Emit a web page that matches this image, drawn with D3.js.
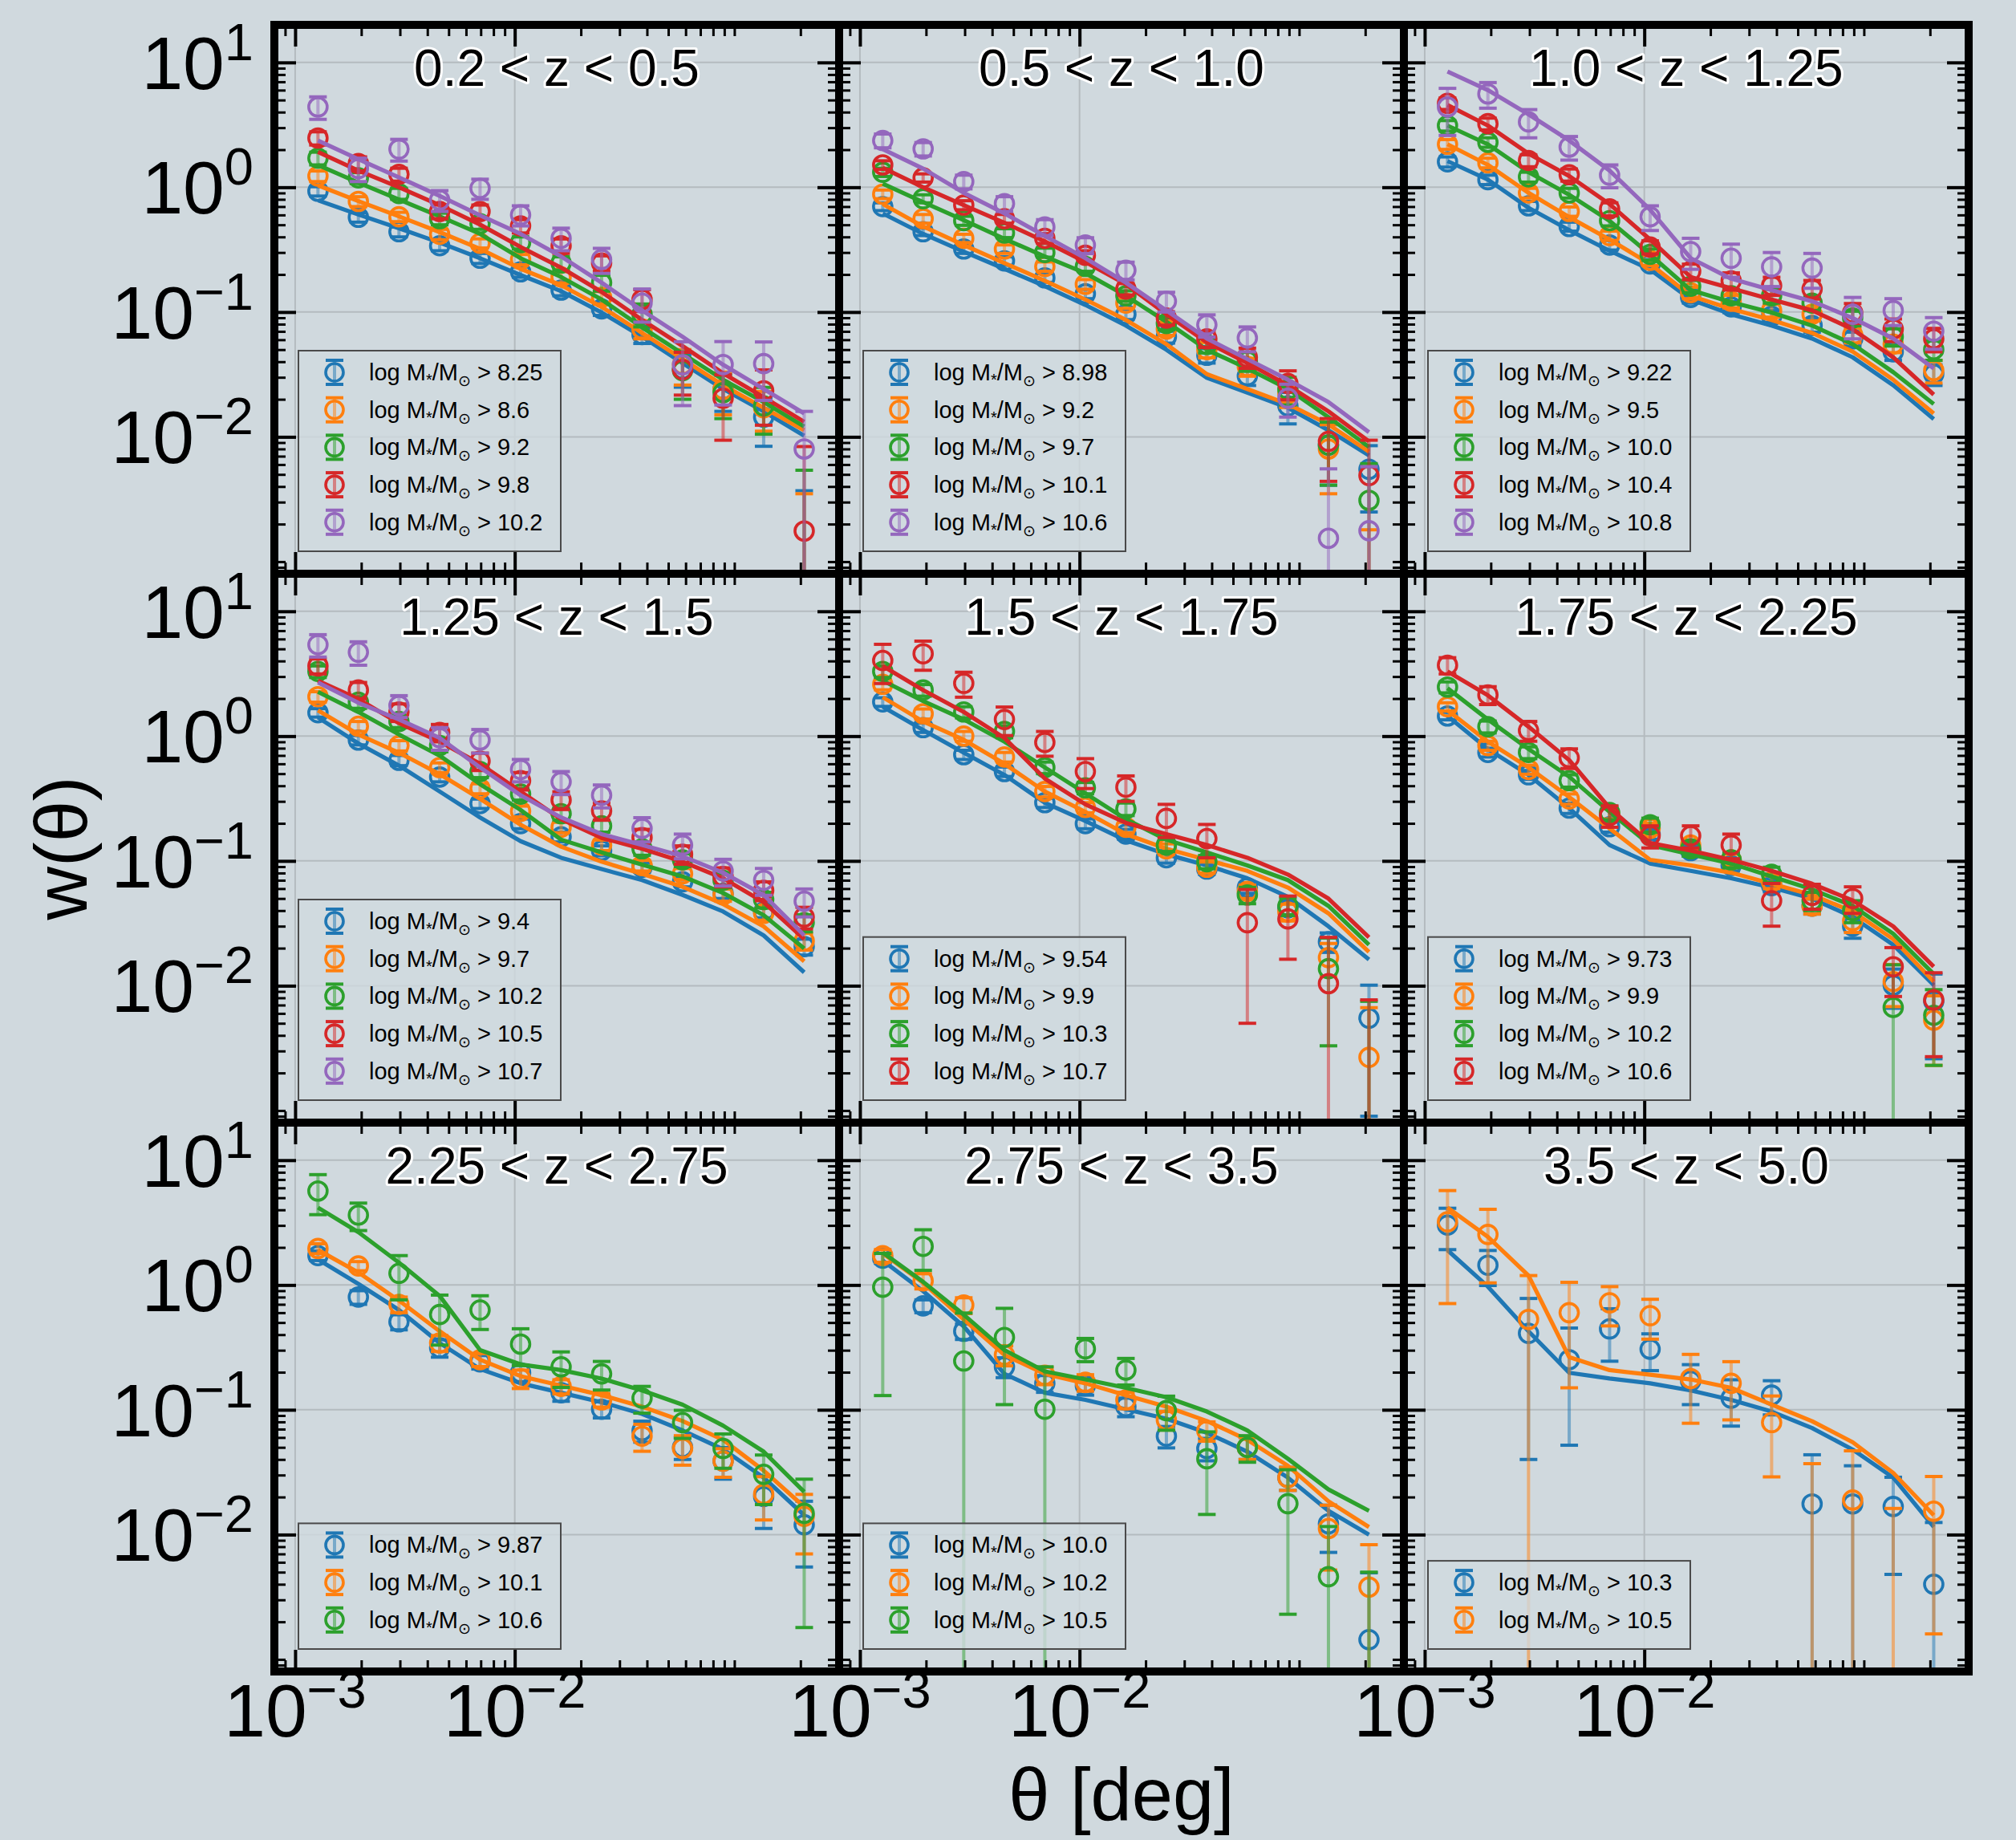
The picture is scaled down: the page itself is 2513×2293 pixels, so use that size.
<!DOCTYPE html>
<html><head><meta charset="utf-8">
<script src="https://cdn.jsdelivr.net/npm/d3@7"></script>
<style>body{margin:0;background:#d0d9de}svg{display:block}</style>
</head><body>
<svg id="c" width="2513" height="2293"></svg>
<script>
// ---------------- DATA ----------------
const theta = [0.00127, 0.00194, 0.00297, 0.00455, 0.00695, 0.01063, 0.01626, 0.02486, 0.0380, 0.0581, 0.0889, 0.1360, 0.2080];
const panelTitles = ["0.2 < z < 0.5","0.5 < z < 1.0","1.0 < z < 1.25","1.25 < z < 1.5","1.5 < z < 1.75","1.75 < z < 2.25","2.25 < z < 2.75","2.75 < z < 3.5","3.5 < z < 5.0"];
const massLabels = [
  ["8.25","8.6","9.2","9.8","10.2"],
  ["8.98","9.2","9.7","10.1","10.6"],
  ["9.22","9.5","10.0","10.4","10.8"],
  ["9.4","9.7","10.2","10.5","10.7"],
  ["9.54","9.9","10.3","10.7"],
  ["9.73","9.9","10.2","10.6"],
  ["9.87","10.1","10.6"],
  ["10.0","10.2","10.5"],
  ["10.3","10.5"]
];
const xMajorTicks = [1e-3, 1e-2];
const yMajorTicks = [1e-2, 1e-1, 1, 10];
const xTickLabels = ["10","10"], xTickExps = ["\u22123","\u22122"];
const yTickLabels = ["10","10","10","10"], yTickExps = ["\u22122","\u22121","0","1"];

// panel 1
const w_p1 = [
 [0.93, 0.575, 0.44, 0.34, 0.27, 0.21, 0.15, 0.106, 0.066, 0.035, 0.024, 0.0144, -0.002],
 [1.23, 0.77, 0.58, 0.42, 0.356, 0.264, 0.191, 0.131, 0.073, 0.038, 0.024, 0.0171, -0.002],
 [1.71, 1.19, 0.89, 0.56, 0.51, 0.36, 0.247, 0.172, 0.096, 0.034, 0.0226, 0.0177, -0.001],
 [2.48, 1.55, 1.27, 0.64, 0.64, 0.49, 0.34, 0.247, 0.126, 0.0346, 0.0204, 0.0234, 0.00176],
 [4.4, 1.41, 2.02, 0.79, 0.98, 0.60, 0.39, 0.264, 0.118, 0.0378, 0.038, 0.0386, 0.008]];
const err_p1 = [
 [0.08, 0.05, 0.04, 0.03, 0.025, 0.02, 0.015, 0.012, 0.01, 0.01, 0.008, 0.006, 0.0057],
 [0.12, 0.07, 0.05, 0.04, 0.03, 0.025, 0.02, 0.015, 0.012, 0.012, 0.009, 0.006, 0.0055],
 [0.2, 0.12, 0.09, 0.06, 0.05, 0.04, 0.03, 0.025, 0.02, 0.014, 0.0086, 0.0072, 0.0064],
 [0.3, 0.2, 0.15, 0.08, 0.08, 0.06, 0.045, 0.035, 0.025, 0.013, 0.011, 0.011, 0.0066],
 [0.9, 0.3, 0.4, 0.15, 0.18, 0.11, 0.08, 0.06, 0.035, 0.02, 0.02, 0.019, 0.008]];
const model_p1 = [
 [0.786, 0.604, 0.469, 0.36, 0.27, 0.198, 0.147, 0.099, 0.0634, 0.039, 0.0242, 0.016, 0.0102],
 [1.035, 0.775, 0.584, 0.437, 0.321, 0.222, 0.164, 0.110, 0.068, 0.042, 0.0259, 0.0171, 0.0113],
 [1.51, 1.09, 0.797, 0.584, 0.423, 0.27, 0.191, 0.126, 0.0754, 0.0465, 0.0287, 0.019, 0.0121],
 [1.92, 1.36, 1.0, 0.718, 0.502, 0.332, 0.227, 0.145, 0.0865, 0.0534, 0.0323, 0.0208, 0.0132],
 [2.37, 1.68, 1.2, 0.853, 0.596, 0.423, 0.279, 0.172, 0.103, 0.0634, 0.0378, 0.0242, 0.0154]];
// panel 2
const w_p2 = [
 [0.70, 0.44, 0.32, 0.257, 0.188, 0.14, 0.096, 0.0634, 0.045, 0.0308, 0.0177, 0.0086, 0.0055],
 [0.88, 0.56, 0.39, 0.32, 0.232, 0.167, 0.118, 0.073, 0.050, 0.0366, 0.0222, 0.008, -0.001],
 [1.32, 0.81, 0.54, 0.43, 0.30, 0.232, 0.135, 0.081, 0.055, 0.0405, 0.024, 0.0086, 0.0031],
 [1.51, 1.19, 0.72, 0.56, 0.39, 0.285, 0.153, 0.0895, 0.061, 0.0434, 0.0268, 0.0092, 0.0049],
 [2.37, 2.03, 1.11, 0.74, 0.48, 0.344, 0.216, 0.122, 0.079, 0.062, 0.0204, 0.00154, 0.00177]];
const err_p2 = [
 [0.05, 0.03, 0.025, 0.02, 0.015, 0.012, 0.009, 0.007, 0.006, 0.005, 0.005, 0.0045, 0.003],
 [0.07, 0.045, 0.03, 0.025, 0.02, 0.015, 0.011, 0.008, 0.007, 0.006, 0.005, 0.0045, 0.0028],
 [0.1, 0.06, 0.045, 0.035, 0.025, 0.02, 0.013, 0.009, 0.008, 0.007, 0.006, 0.0045, 0.003],
 [0.12, 0.09, 0.06, 0.045, 0.035, 0.025, 0.016, 0.011, 0.009, 0.008, 0.007, 0.0048, 0.0045],
 [0.3, 0.25, 0.14, 0.1, 0.07, 0.05, 0.035, 0.022, 0.016, 0.014, 0.006, 0.004, 0.004]];
const model_p2 = [
 [0.617, 0.423, 0.305, 0.222, 0.161, 0.114, 0.078, 0.0499, 0.0297, 0.0226, 0.0171, 0.0113, 0.0071],
 [0.733, 0.485, 0.344, 0.247, 0.178, 0.126, 0.0865, 0.0553, 0.0318, 0.0242, 0.0183, 0.0126, 0.0076],
 [1.07, 0.759, 0.545, 0.386, 0.279, 0.205, 0.135, 0.0836, 0.0499, 0.0353, 0.0242, 0.0144, 0.0083],
 [1.43, 1.0, 0.718, 0.52, 0.368, 0.252, 0.167, 0.096, 0.0572, 0.039, 0.0259, 0.016, 0.0092],
 [2.02, 1.41, 0.902, 0.617, 0.408, 0.27, 0.172, 0.103, 0.0613, 0.042, 0.0287, 0.019, 0.0109]];
// panel 3
const w_p3 = [
 [1.6, 1.15, 0.71, 0.485, 0.344, 0.243, 0.131, 0.110, 0.0927, 0.078, 0.061, 0.048, 0.0318],
 [2.21, 1.57, 0.90, 0.64, 0.41, 0.26, 0.143, 0.122, 0.103, 0.096, 0.0656, 0.0553, 0.034],
 [3.12, 2.29, 1.21, 0.90, 0.54, 0.29, 0.161, 0.135, 0.135, 0.118, 0.0895, 0.0634, 0.050],
 [4.7, 3.23, 1.64, 1.26, 0.67, 0.332, 0.212, 0.178, 0.163, 0.153, 0.099, 0.073, 0.061],
 [4.4, 5.6, 3.34, 2.1, 1.25, 0.58, 0.305, 0.27, 0.23, 0.225, 0.096, 0.103, 0.0703]];
const err_p3 = [
 [0.15, 0.1, 0.06, 0.04, 0.03, 0.02, 0.013, 0.011, 0.01, 0.009, 0.008, 0.007, 0.006],
 [0.2, 0.14, 0.08, 0.055, 0.035, 0.024, 0.015, 0.014, 0.012, 0.011, 0.009, 0.008, 0.007],
 [0.3, 0.2, 0.11, 0.08, 0.05, 0.03, 0.018, 0.017, 0.017, 0.015, 0.012, 0.01, 0.009],
 [0.5, 0.35, 0.18, 0.14, 0.08, 0.04, 0.03, 0.028, 0.027, 0.026, 0.018, 0.015, 0.013],
 [1.8, 1.3, 0.85, 0.45, 0.26, 0.13, 0.085, 0.08, 0.07, 0.07, 0.035, 0.025, 0.02]];
const model_p3 = [
 [1.62, 1.15, 0.684, 0.453, 0.31, 0.219, 0.126, 0.096, 0.078, 0.0613, 0.0434, 0.0259, 0.0139],
 [2.21, 1.51, 0.902, 0.576, 0.381, 0.243, 0.135, 0.106, 0.0865, 0.068, 0.0482, 0.0287, 0.0154],
 [3.12, 2.21, 1.32, 0.871, 0.538, 0.289, 0.15, 0.12, 0.099, 0.078, 0.0553, 0.033, 0.0183],
 [4.56, 3.12, 1.86, 1.23, 0.733, 0.381, 0.191, 0.155, 0.126, 0.103, 0.0728, 0.0434, 0.0218],
 [8.47, 6.0, 3.84, 2.37, 1.36, 0.661, 0.27, 0.185, 0.15, 0.122, 0.0895, 0.0613, 0.0353]];
// panel 4
const w_p4 = [
 [1.54, 0.93, 0.64, 0.47, 0.288, 0.199, 0.156, 0.121, 0.089, 0.068, 0.055, 0.039, 0.0206],
 [2.07, 1.2, 0.84, 0.56, 0.38, 0.25, 0.186, 0.134, 0.092, 0.079, 0.0535, 0.038, 0.0228],
 [3.3, 1.87, 1.31, 0.84, 0.52, 0.343, 0.239, 0.191, 0.125, 0.102, 0.070, 0.049, 0.032],
 [3.65, 2.34, 1.56, 1.07, 0.63, 0.44, 0.308, 0.252, 0.154, 0.113, 0.075, 0.058, 0.0355],
 [5.4, 4.7, 1.76, 0.97, 0.93, 0.54, 0.43, 0.336, 0.182, 0.134, 0.083, 0.070, 0.0476]];
const err_p4 = [
 [0.12, 0.08, 0.06, 0.04, 0.025, 0.018, 0.014, 0.011, 0.008, 0.006, 0.005, 0.004, 0.003],
 [0.2, 0.11, 0.08, 0.05, 0.035, 0.025, 0.018, 0.013, 0.009, 0.008, 0.006, 0.0045, 0.0035],
 [0.35, 0.2, 0.14, 0.09, 0.055, 0.036, 0.026, 0.021, 0.014, 0.012, 0.009, 0.007, 0.005],
 [0.5, 0.35, 0.25, 0.17, 0.1, 0.07, 0.05, 0.04, 0.025, 0.019, 0.013, 0.01, 0.007],
 [1.1, 1.0, 0.35, 0.2, 0.2, 0.11, 0.09, 0.07, 0.04, 0.03, 0.02, 0.017, 0.012]];
const model_p4 = [
 [1.41, 0.873, 0.58, 0.36, 0.223, 0.144, 0.106, 0.086, 0.0702, 0.0534, 0.0393, 0.0253, 0.0128],
 [1.61, 1.03, 0.736, 0.496, 0.314, 0.195, 0.13, 0.0986, 0.0788, 0.0621, 0.0451, 0.0299, 0.0157],
 [2.26, 1.56, 1.03, 0.697, 0.412, 0.256, 0.148, 0.117, 0.0934, 0.0751, 0.0553, 0.0367, 0.0199],
 [2.78, 1.98, 1.27, 0.903, 0.6, 0.36, 0.216, 0.153, 0.125, 0.0986, 0.0726, 0.0467, 0.0236],
 [2.69, 1.85, 1.36, 0.966, 0.561, 0.336, 0.223, 0.164, 0.134, 0.109, 0.0804, 0.0534, 0.0253]];
// panel 5
const w_p5 = [
 [1.88, 1.17, 0.71, 0.52, 0.293, 0.199, 0.164, 0.106, 0.086, 0.061, 0.042, 0.0225, 0.0055],
 [2.6, 1.51, 1.0, 0.68, 0.36, 0.268, 0.186, 0.125, 0.089, 0.057, 0.039, 0.0168, 0.00267],
 [3.3, 2.34, 1.56, 1.09, 0.56, 0.385, 0.261, 0.134, 0.0986, 0.0534, 0.0435, 0.0137, -0.001],
 [4.04, 4.57, 2.65, 1.36, 0.89, 0.52, 0.39, 0.219, 0.151, 0.032, 0.0343, 0.0104, -0.002]];
const err_p5 = [
 [0.15, 0.1, 0.06, 0.045, 0.025, 0.018, 0.015, 0.01, 0.008, 0.006, 0.005, 0.004, 0.0046],
 [0.25, 0.14, 0.09, 0.06, 0.035, 0.025, 0.018, 0.012, 0.009, 0.007, 0.006, 0.005, 0.004],
 [0.35, 0.25, 0.16, 0.12, 0.06, 0.04, 0.03, 0.015, 0.012, 0.008, 0.007, 0.0104, 0.0085],
 [1.4, 1.2, 0.6, 0.35, 0.2, 0.14, 0.09, 0.065, 0.045, 0.027, 0.018, 0.014, 0.0097]];
const model_p5 = [
 [1.72, 1.12, 0.736, 0.489, 0.293, 0.209, 0.146, 0.113, 0.0921, 0.0726, 0.0516, 0.0299, 0.0162],
 [2.05, 1.31, 0.934, 0.6, 0.36, 0.247, 0.164, 0.125, 0.102, 0.0832, 0.0612, 0.038, 0.0186],
 [2.78, 1.91, 1.36, 0.903, 0.561, 0.348, 0.216, 0.148, 0.117, 0.0921, 0.0702, 0.0436, 0.0213],
 [3.65, 2.34, 1.56, 0.966, 0.457, 0.284, 0.202, 0.164, 0.134, 0.106, 0.0778, 0.0499, 0.0244]];
// panel 6
const w_p6 = [
 [1.45, 0.74, 0.49, 0.265, 0.188, 0.164, 0.121, 0.092, 0.0634, 0.0435, 0.030, 0.0101, 0.0075],
 [1.72, 0.84, 0.54, 0.314, 0.239, 0.182, 0.134, 0.102, 0.068, 0.0435, 0.0332, 0.0108, 0.0053],
 [2.47, 1.19, 0.74, 0.44, 0.244, 0.195, 0.125, 0.102, 0.078, 0.048, 0.040, 0.0067, 0.0058],
 [3.7, 2.14, 1.11, 0.67, 0.231, 0.159, 0.159, 0.134, 0.048, 0.053, 0.050, 0.0142, 0.0077]];
const err_p6 = [
 [0.1, 0.06, 0.04, 0.025, 0.018, 0.015, 0.012, 0.009, 0.007, 0.006, 0.006, 0.0035, 0.0049],
 [0.13, 0.07, 0.045, 0.03, 0.022, 0.018, 0.013, 0.011, 0.008, 0.006, 0.0065, 0.004, 0.003],
 [0.25, 0.13, 0.08, 0.05, 0.03, 0.025, 0.016, 0.014, 0.011, 0.008, 0.008, 0.008, 0.0035],
 [0.55, 0.35, 0.2, 0.12, 0.045, 0.032, 0.032, 0.03, 0.018, 0.012, 0.012, 0.006, 0.005]];
const model_p6 = [
 [1.45, 0.788, 0.489, 0.265, 0.134, 0.0953, 0.0832, 0.0726, 0.0612, 0.0499, 0.0355, 0.0213, 0.0101],
 [1.61, 0.903, 0.561, 0.325, 0.182, 0.102, 0.0921, 0.0804, 0.0656, 0.0534, 0.0393, 0.0236, 0.0108],
 [2.42, 1.36, 0.788, 0.473, 0.247, 0.134, 0.113, 0.0953, 0.0751, 0.0592, 0.0436, 0.0261, 0.0124],
 [3.3, 2.12, 1.19, 0.642, 0.265, 0.139, 0.121, 0.102, 0.0832, 0.0656, 0.0482, 0.0299, 0.0142]];
// panel 7
const w_p7 = [
 [1.72, 0.80, 0.507, 0.314, 0.242, 0.198, 0.137, 0.101, 0.068, 0.050, 0.0388, 0.0202, 0.012],
 [1.96, 1.42, 0.70, 0.343, 0.252, 0.178, 0.154, 0.12, 0.0615, 0.049, 0.0388, 0.0211, 0.014],
 [5.66, 3.63, 1.24, 0.58, 0.63, 0.336, 0.221, 0.194, 0.124, 0.079, 0.049, 0.0304, 0.0148]];
const err_p7 = [
 [0.15, 0.1, 0.07, 0.05, 0.03, 0.03, 0.02, 0.015, 0.013, 0.01, 0.011, 0.009, 0.0065],
 [0.18, 0.12, 0.1, 0.05, 0.03, 0.03, 0.02, 0.015, 0.015, 0.013, 0.01, 0.008, 0.007],
 [2.0, 0.9, 0.48, 0.25, 0.19, 0.11, 0.07, 0.05, 0.03, 0.02, 0.015, 0.013, 0.013]];
const model_p7 = [
 [1.6, 1.02, 0.631, 0.343, 0.212, 0.163, 0.137, 0.115, 0.0927, 0.0684, 0.0482, 0.0286, 0.0143],
 [1.91, 1.26, 0.75, 0.426, 0.252, 0.186, 0.156, 0.131, 0.106, 0.0813, 0.0574, 0.0326, 0.0167],
 [4.17, 2.65, 1.51, 0.818, 0.301, 0.231, 0.208, 0.178, 0.143, 0.11, 0.0746, 0.0462, 0.022]];
// panel 8
const w_p8 = [
 [1.64, 0.68, 0.426, 0.221, 0.163, 0.156, 0.106, 0.0615, 0.049, 0.050, 0.0286, 0.0122, 0.00144],
 [1.72, 1.08, 0.69, 0.275, 0.189, 0.166, 0.12, 0.0828, 0.068, 0.050, 0.0286, 0.0112, 0.0038],
 [0.96, 2.04, 0.246, 0.38, 0.101, 0.308, 0.208, 0.0986, 0.0405, 0.050, 0.0177, 0.0046, -0.001]];
const err_p8 = [
 [0.15, 0.08, 0.06, 0.04, 0.025, 0.025, 0.018, 0.012, 0.01, 0.01, 0.006, 0.005, 0.0035],
 [0.2, 0.15, 0.1, 0.05, 0.03, 0.025, 0.018, 0.014, 0.012, 0.01, 0.006, 0.006, 0.0045],
 [0.83, 0.73, 0.35, 0.27, 0.12, 0.065, 0.05, 0.03, 0.026, 0.012, 0.0154, 0.007, 0.006]];
const model_p8 = [
 [1.57, 0.893, 0.465, 0.194, 0.137, 0.12, 0.101, 0.0849, 0.0654, 0.0462, 0.0286, 0.0155, 0.01],
 [1.79, 1.04, 0.53, 0.275, 0.194, 0.163, 0.131, 0.106, 0.0813, 0.0574, 0.0356, 0.0185, 0.0115],
 [1.82, 1.06, 0.578, 0.301, 0.203, 0.175, 0.15, 0.126, 0.0968, 0.0684, 0.0405, 0.023, 0.0155]];
// panel 9
const w_p9 = [
 [3.02, 1.44, 0.41, 0.252, 0.445, 0.306, 0.17, 0.124, 0.131, 0.0176, 0.0176, 0.0168, 0.004],
 [3.21, 2.54, 0.53, 0.60, 0.72, 0.568, 0.178, 0.163, 0.079, -0.005, 0.0189, -0.005, 0.0154]];
const err_p9 = [
 [1.1, 0.45, 0.37, 0.2, 0.2, 0.1, 0.06, 0.05, 0.04, 0.026, 0.018, 0.012, 0.0085],
 [2.5, 1.5, 0.66, 0.45, 0.25, 0.2, 0.1, 0.08, 0.05, 0.042, 0.028, 0.0212, 0.0138]];
const model_p9 = [
 [1.9, 0.97, 0.426, 0.198, 0.178, 0.163, 0.143, 0.12, 0.0968, 0.0714, 0.048, 0.0286, 0.0115],
 [4.17, 2.43, 1.19, 0.264, 0.208, 0.191, 0.175, 0.15, 0.11, 0.081, 0.055, 0.0312, 0.0143]];

// ---------------- STYLE / LAYOUT ----------------
const BG = "#d0d9de";
const COLORS = ["#1f77b4","#ff7f0e","#2ca02c","#d62728","#9467bd"];
const FONT = "'Liberation Sans', Arial, Helvetica, sans-serif";
const L0 = 342, T0 = 31, PW = 704, PH = 684;

const panels = [
  {w:w_p1, e:err_p1, m:model_p1}, {w:w_p2, e:err_p2, m:model_p2}, {w:w_p3, e:err_p3, m:model_p3},
  {w:w_p4, e:err_p4, m:model_p4}, {w:w_p5, e:err_p5, m:model_p5}, {w:w_p6, e:err_p6, m:model_p6},
  {w:w_p7, e:err_p7, m:model_p7}, {w:w_p8, e:err_p8, m:model_p8}, {w:w_p9, e:err_p9, m:model_p9}
];

const svg = d3.select("#c");
svg.append("rect").attr("width", 2513).attr("height", 2293).attr("fill", BG);

const x = d3.scaleLog().domain([8.04e-4, 0.30]).range([0, PW]);
const y = d3.scaleLog().domain([8.0e-4, 20]).range([PH, 0]);

function minorVals(scale, majors) {
  const out = [];
  const [a, b] = scale.domain();
  for (let k = -5; k <= 2; k++) for (let m = 1; m <= 9; m++) {
    const v = m * Math.pow(10, k);
    if (v > a * 1.001 && v < b * 0.999 && !majors.some(t => Math.abs(t - v) / t < 1e-6)) out.push(v);
  }
  return out;
}
const xMinor = minorVals(x, xMajorTicks);
const yMinor = minorVals(y, yMajorTicks);

function addTicks(g, gen, vals, size, width, tr) {
  const a = g.append("g").attr("transform", tr)
    .call(gen.tickValues(vals).tickSize(-size).tickFormat(() => ""));
  a.select(".domain").remove();
  a.selectAll("text").remove();
  a.selectAll("line").attr("stroke", "#000").attr("stroke-width", width);
}

panels.forEach((p, k) => {
  const col = k % 3, row = Math.floor(k / 3);
  const g = svg.append("g").attr("transform", `translate(${L0 + col * PW},${T0 + row * PH})`);
  const cid = "clip" + k;
  g.append("clipPath").attr("id", cid).append("rect").attr("width", PW).attr("height", PH);

  // grid
  const grid = g.append("g").attr("stroke", "#b4bbbf").attr("stroke-width", 2);
  xMajorTicks.forEach(t => grid.append("line").attr("x1", x(t)).attr("x2", x(t)).attr("y1", 0).attr("y2", PH));
  yMajorTicks.forEach(t => grid.append("line").attr("y1", y(t)).attr("y2", y(t)).attr("x1", 0).attr("x2", PW));

  const gd = g.append("g").attr("clip-path", `url(#${cid})`);
  const line = d3.line().x((d, i) => x(theta[i])).y(d => y(d));
  p.w.forEach((vals, s) => {
    const c = COLORS[s];
    const gs = gd.append("g");
    vals.forEach((v, i) => {
      const e = p.e[s][i];
      const hi = v + e, lo = v - e;
      if (hi <= 0) return;
      const cx = x(theta[i]);
      const yh = y(hi);
      const yl = lo > 0 ? y(lo) : PH + 60;
      gs.append("line").attr("x1", cx).attr("x2", cx).attr("y1", yl).attr("y2", yh)
        .attr("stroke", c).attr("stroke-width", 4).attr("stroke-opacity", 0.5);
      gs.append("line").attr("x1", cx - 11).attr("x2", cx + 11).attr("y1", yh).attr("y2", yh)
        .attr("stroke", c).attr("stroke-width", 4);
      if (lo > 0) gs.append("line").attr("x1", cx - 11).attr("x2", cx + 11).attr("y1", yl).attr("y2", yl)
        .attr("stroke", c).attr("stroke-width", 4);
      if (v > 0) gs.append("circle").attr("cx", cx).attr("cy", y(v)).attr("r", 11.5)
        .attr("fill", "none").attr("stroke", c).attr("stroke-width", 3.6);
    });
    gs.append("path").attr("d", line(p.m[s])).attr("fill", "none").attr("stroke", c)
      .attr("stroke-width", 5.2).attr("stroke-linejoin", "round");
  });

  // legend
  const n = p.w.length;
  const lh = 46.7 * n + 16.5;
  const lt = PH - 28 - lh, ll = 30;
  const lg = g.append("g");
  lg.append("rect").attr("x", ll).attr("y", lt).attr("width", 327).attr("height", lh)
    .attr("fill", BG).attr("fill-opacity", 0.8).attr("stroke", "#4a4a4a").attr("stroke-width", 2);
  massLabels[k].forEach((lab, i) => {
    const cy = lt + 27 + i * 46.7, hx = ll + 45, c = COLORS[i];
    lg.append("line").attr("x1", hx).attr("x2", hx).attr("y1", cy - 15).attr("y2", cy + 15)
      .attr("stroke", c).attr("stroke-width", 4).attr("stroke-opacity", 0.5);
    [cy - 15, cy + 15].forEach(yy => lg.append("line").attr("x1", hx - 11).attr("x2", hx + 11)
      .attr("y1", yy).attr("y2", yy).attr("stroke", c).attr("stroke-width", 4));
    lg.append("circle").attr("cx", hx).attr("cy", cy).attr("r", 11).attr("fill", "none")
      .attr("stroke", c).attr("stroke-width", 3.6);
    const t = lg.append("text").attr("x", ll + 88).attr("y", cy + 10)
      .attr("font-family", FONT).attr("font-size", 29).attr("fill", "#000");
    t.append("tspan").text("log M");
    t.append("tspan").attr("font-size", 20).attr("dy", 6).text("*");
    t.append("tspan").attr("dy", -6).text("/M");
    t.append("tspan").attr("font-size", 19).attr("font-family", "'DejaVu Sans'").attr("dy", 7).text("\u2299");
    t.append("tspan").attr("dy", -7).text(" > " + lab);
  });

  // title
  g.append("text").attr("x", PW / 2).attr("y", 76).attr("text-anchor", "middle")
    .attr("font-family", FONT).attr("font-size", 64).attr("fill", "#000")
    .attr("stroke", "#fff").attr("stroke-width", 6).attr("paint-order", "stroke")
    .attr("stroke-linejoin", "round").text(panelTitles[k]);

  // ticks (inward, all sides)
  addTicks(g, d3.axisBottom(x), xMajorTicks, 27, 4, `translate(0,${PH})`);
  addTicks(g, d3.axisBottom(x), xMinor, 14, 3, `translate(0,${PH})`);
  addTicks(g, d3.axisTop(x), xMajorTicks, 27, 4, `translate(0,0)`);
  addTicks(g, d3.axisTop(x), xMinor, 14, 3, `translate(0,0)`);
  addTicks(g, d3.axisLeft(y), yMajorTicks, 27, 4, `translate(0,0)`);
  addTicks(g, d3.axisLeft(y), yMinor, 14, 3, `translate(0,0)`);
  addTicks(g, d3.axisRight(y), yMajorTicks, 27, 4, `translate(${PW},0)`);
  addTicks(g, d3.axisRight(y), yMinor, 14, 3, `translate(${PW},0)`);

  // frame
  g.append("rect").attr("width", PW).attr("height", PH).attr("fill", "none")
    .attr("stroke", "#000").attr("stroke-width", 10);

  // tick labels
  if (row === 2) {
    xMajorTicks.forEach((t, i) => {
      const tx = g.append("text").attr("x", x(t)).attr("y", PH + 81).attr("text-anchor", "middle")
        .attr("font-family", FONT).attr("font-size", 93).attr("fill", "#000");
      tx.append("tspan").text(xTickLabels[i]);
      tx.append("tspan").attr("font-size", 65).attr("dy", -36).text(xTickExps[i]);
    });
  }
  if (col === 0) {
    yMajorTicks.forEach((t, i) => {
      const ty = g.append("text").attr("x", -26).attr("y", y(t) + 33).attr("text-anchor", "end")
        .attr("font-family", FONT).attr("font-size", 93).attr("fill", "#000");
      ty.append("tspan").text(yTickLabels[i]);
      ty.append("tspan").attr("font-size", 65).attr("dy", -36).text(yTickExps[i]);
    });
  }
});

// axis titles
svg.append("text").attr("x", L0 + 1.5 * PW).attr("y", 2268).attr("text-anchor", "middle")
  .attr("font-family", FONT).attr("font-size", 92).attr("fill", "#000").text("\u03B8 [deg]");
svg.append("text").attr("transform", `translate(108,${T0 + 1.5 * PH}) rotate(-90)`)
  .attr("text-anchor", "middle").attr("font-family", FONT).attr("font-size", 92)
  .attr("fill", "#000").text("w(\u03B8)");
</script>
</body></html>
